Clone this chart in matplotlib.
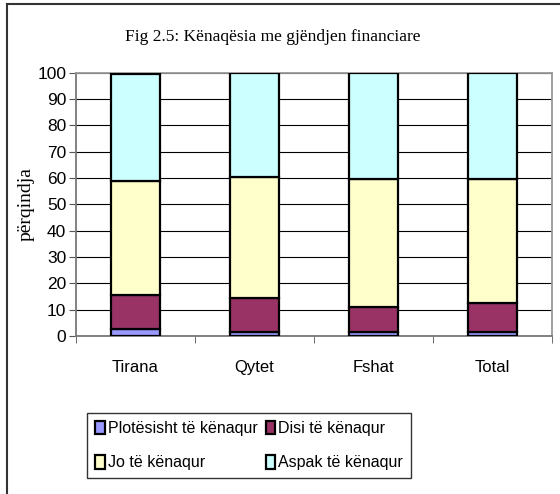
import matplotlib
matplotlib.use("Agg")
import matplotlib.pyplot as plt
import numpy as np
from matplotlib.lines import Line2D

categories = ["Tirana", "Qytet", "Fshat", "Total"]
series_names = ["Plotësisht të kënaqur", "Disi të kënaqur", "Jo të kënaqur", "Aspak të kënaqur"]
plotesisht = [2.5, 1.6, 1.4, 1.6]
disi = [13.1, 12.7, 9.5, 10.8]
jo = [43.3, 46.0, 48.6, 47.1]
aspak = [40.6, 39.7, 40.5, 40.5]
colors = ["#9999FF", "#993366", "#FFFFCC", "#CCFFFF"]

fig = plt.figure(figsize=(5.6, 4.94), dpi=100)
ax = fig.add_axes([76 / 560, 1 - 336 / 494, (552 - 76) / 560, (336 - 72.7) / 494])

x = np.arange(len(categories))
bottom = np.zeros(len(categories))
bars = []
for name, vals, col in zip(series_names, [plotesisht, disi, jo, aspak], colors):
    b = ax.bar(x, vals, bottom=bottom, width=0.41, color=col, edgecolor="black",
               linewidth=1.6, zorder=3, label=name)
    bars.append(b)
    bottom += np.array(vals)

ax.set_xlim(-0.5, len(categories) - 0.5)
ax.set_ylim(0, 100)
ax.set_yticks(range(0, 101, 10))
ax.yaxis.grid(True, color="black", linewidth=0.8, zorder=0)
ax.set_xticks(x)
ax.set_xticklabels(categories, fontfamily="Liberation Sans", fontsize=12)
ax.tick_params(axis="x", length=0, pad=17)
ax.set_xticks(np.arange(-0.5, len(categories)), minor=True)
ax.tick_params(axis="x", which="minor", length=5, direction="out", color="#555555")
ax.tick_params(axis="y", length=5, direction="out", color="#555555", pad=2)
for lbl in ax.get_yticklabels():
    lbl.set_fontfamily("Liberation Sans")
    lbl.set_fontsize(12.5)
ax.spines["top"].set_color("#999999")
ax.spines["right"].set_color("#999999")
ax.spines["left"].set_color("#777777")
ax.spines["bottom"].set_color("#777777")
for s in ax.spines.values():
    s.set_linewidth(1.3)

ax.set_ylabel("përqindja", fontfamily="Liberation Serif", fontsize=14, labelpad=2)

fig.text(273 / 560, 1 - 37 / 494, "Fig 2.5: Kënaqësia me gjëndjen financiare",
         ha="center", va="center", fontfamily="Liberation Serif", fontsize=12.5)

# row-wise order: matplotlib fills legend columns first
order = [0, 2, 1, 3]
leg = fig.legend([bars[i] for i in order], [series_names[i] for i in order],
                 loc="upper left", bbox_to_anchor=(87 / 560, 1 - 413 / 494),
                 ncol=2, frameon=True, fancybox=False, edgecolor="black",
                 prop={"family": "Liberation Sans", "size": 11.5},
                 handlelength=0.6, handleheight=0.9, handletextpad=0.2,
                 columnspacing=0.5, borderpad=0.5, labelspacing=1.2, borderaxespad=0)
leg.get_frame().set_linewidth(1.0)

# outer chart frame (only left and top edges visible)
fig.add_artist(Line2D([7 / 560, 7 / 560], [0, 1 - 4.5 / 494], transform=fig.transFigure,
                      color="#333333", linewidth=1.5))
fig.add_artist(Line2D([7 / 560, 1], [1 - 4.5 / 494, 1 - 4.5 / 494], transform=fig.transFigure,
                      color="#333333", linewidth=1.5))

fig.savefig("out.png", dpi=100)
